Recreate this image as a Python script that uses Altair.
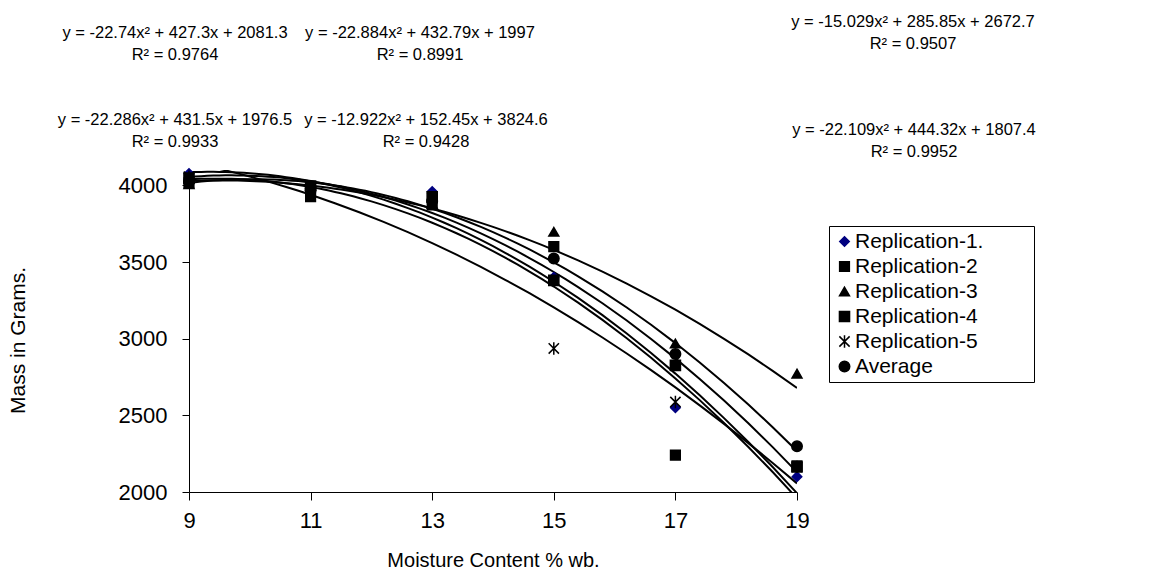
import altair as alt
import pandas as pd

moisture = [9, 11, 13, 15, 17, 19]
series_names = ["Replication-1.", "Replication-2", "Replication-3",
                "Replication-4", "Replication-5", "Average"]
rep1 = [4077, 3951, 3960, 3400, 2550, 2100]
rep2 = [4016, 3926, 3872, 3600, 2240, 2170]
rep3 = [4008, 3998, 3878, 3697, 2969, 2772]
rep4 = [4047, 3996, 3925, 3380, 2826, 2163]
rep5 = [4057, 3990, 3920, 2936, 2587, 2164]
average = [4024, 3977, 3898, 3523, 2900, 2298]
x_ticks = [9, 11, 13, 15, 17, 19]
y_ticks = [2000, 2500, 3000, 3500, 4000]

equations = ["y = -22.74x² + 427.3x + 2081.3", "y = -22.884x² + 432.79x + 1997",
             "y = -15.029x² + 285.85x + 2672.7", "y = -22.286x² + 431.5x + 1976.5",
             "y = -12.922x² + 152.45x + 3824.6", "y = -22.109x² + 444.32x + 1807.4"]
r_squared = ["R² = 0.9764", "R² = 0.8991", "R² = 0.9507",
             "R² = 0.9933", "R² = 0.9428", "R² = 0.9952"]

# annotation placement (pixels relative to plot origin)
ann_px = [-14, 231, 724, -14, 237, 725]
ann_py = [-137, -137, -148, -50, -50, -40]

FONT = "Liberation Sans"
LEFT, TOP, W, H = 189, 170, 608, 322

rows = []
for name, vals in zip(series_names, [rep1, rep2, rep3, rep4, rep5, average]):
    for xv, yv in zip(moisture, vals):
        rows.append({"series": name, "moisture": xv, "mass": yv})
df = pd.DataFrame(rows)

ann = pd.DataFrame({"eq": equations, "r2": r_squared, "px": ann_px, "py": ann_py})

x_enc = alt.X("moisture:Q", scale=alt.Scale(domain=[9, 19], nice=False, zero=False),
              axis=alt.Axis(values=x_ticks, format="d", title="Moisture Content % wb.", grid=False,
                            domainColor="black", tickColor="black", tickSize=8,
                            labelFontSize=22, labelFont=FONT, labelColor="black",
                            labelFlush=False, labelOverlap=False,
                            titleFontSize=20, titleFont=FONT, titleFontWeight="normal",
                            titleColor="black", titlePadding=19, labelPadding=10))
y_enc = alt.Y("mass:Q", scale=alt.Scale(domain=[2000, 4100], nice=False, zero=False),
              axis=alt.Axis(values=y_ticks, format="d", title="Mass in Grams.", grid=False,
                            domainColor="black", tickColor="black", tickSize=7,
                            labelFontSize=22, labelFont=FONT, labelColor="black",
                            labelFlush=False, labelOverlap=False,
                            titleFontSize=21, titleFont=FONT, titleFontWeight="normal",
                            titleColor="black", labelPadding=15,
                            titleX=-171, titleY=170, titleAlign="center",
                            titleBaseline="middle", titleAngle=270))

shape_range = ["diamond", "square", "triangle-up", "square",
               "M-1,-1L1,1M-1,1L1,-1M0,-1.2L0,1.2", "circle"]
color_range = ["#000080", "black", "black", "black", "black", "black"]
size_range = [90, 110, 110, 80, 70, 110]

legend = alt.Legend(title=None, orient="none", legendX=640, legendY=56,
                    strokeColor="black", fillColor="white", padding=5,
                    labelFont=FONT, labelFontSize=21, labelColor="black",
                    rowPadding=3, symbolStrokeWidth=1.5, labelOffset=0,
                    labelLimit=400,
                    labelExpr="datum.label + '\u2800\u2800\u2800'")

curves = alt.Chart(df).transform_regression(
    "moisture", "mass", groupby=["series"], method="poly", order=2, extent=[9, 19]
).mark_line(color="black", strokeWidth=2, clip=True).encode(
    x=alt.X("moisture:Q"), y=alt.Y("mass:Q"), detail="series:N")

points = alt.Chart(df).mark_point(filled=True, opacity=1, strokeWidth=1.5).encode(
    x=x_enc, y=y_enc,
    shape=alt.Shape("series:N", scale=alt.Scale(domain=series_names, range=shape_range), legend=legend),
    fill=alt.Fill("series:N", scale=alt.Scale(domain=series_names, range=color_range), legend=legend),
    stroke=alt.Stroke("series:N", scale=alt.Scale(domain=series_names, range=color_range), legend=legend),
    size=alt.Size("series:N", scale=alt.Scale(domain=series_names, range=size_range), legend=legend),
)

eq_text = alt.Chart(ann).mark_text(font=FONT, fontSize=16.5, color="black", align="center",
                                   baseline="middle").encode(
    x=alt.X("px:Q", scale=None), y=alt.Y("py:Q", scale=None), text="eq:N")
r2_text = alt.Chart(ann).mark_text(font=FONT, fontSize=16.5, color="black", align="center",
                                   baseline="middle", dy=22).encode(
    x=alt.X("px:Q", scale=None), y=alt.Y("py:Q", scale=None), text="r2:N")

chart = alt.layer(curves, points, eq_text, r2_text).properties(
    width=W, height=H,
    background="white",
    view=alt.ViewBackground(stroke="transparent", strokeWidth=0),
    autosize=alt.AutoSizeParams(type="none"),
    padding={"left": LEFT, "top": TOP, "right": 1170 - LEFT - W, "bottom": 576 - TOP - H},
).configure_view(strokeWidth=0, strokeOpacity=0)

chart.save("out.html", embed_options={"renderer": "svg", "actions": False})
